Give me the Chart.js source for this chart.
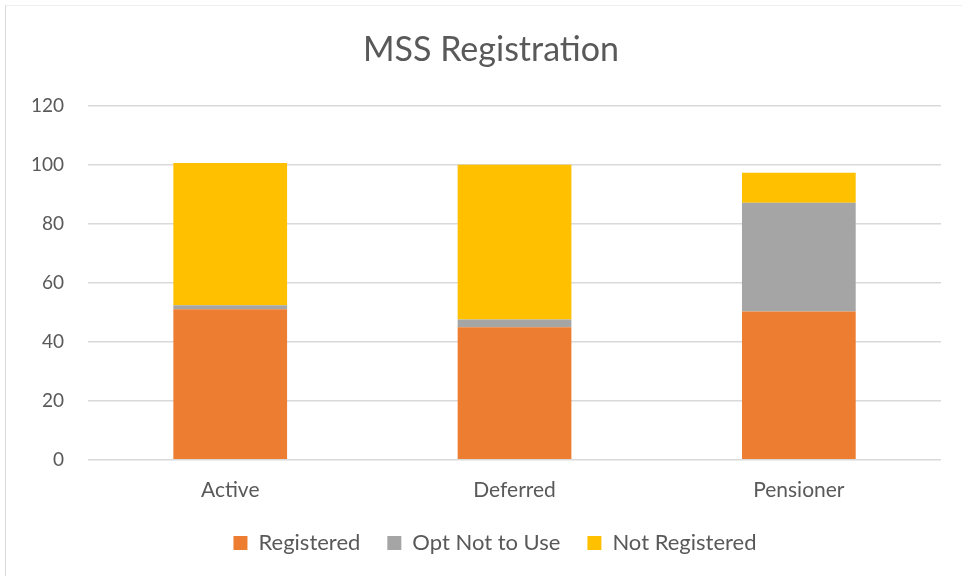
<!DOCTYPE html>
<html>
<head>
<meta charset="utf-8">
<script src="https://cdn.jsdelivr.net/npm/chart.js@4.4.1/dist/chart.umd.min.js"></script>
<style>
  html, body { margin: 0; padding: 0; background: #fff; }
  #wrap {
    position: absolute; left: 5px; top: 5px; width: 957px; height: 571px;
    border-left: 1px solid #d9d9d9; border-top: 1px solid #eeeeee;
    box-sizing: border-box;
  }
  canvas { position: absolute; left: 0; top: 0; }
</style>
</head>
<body>
<div id="wrap"></div>
<canvas id="chart" width="963" height="577"></canvas>
<script>
// values
const categories = ["Active", "Deferred", "Pensioner"];
const registered = [51.0, 44.9, 50.3];
const optNotToUse = [1.4, 2.7, 36.8];
const notRegistered = [48.2, 52.4, 10.2];
const yTicks = [0, 20, 40, 60, 80, 100, 120];

const textColor = "#595959";
const fontFamily = "Lato, 'Open Sans', sans-serif";

// title and legend sit a bit right of the canvas centre in the original
const shiftBoxes = {
    id: "shiftBoxes",
    afterLayout(chart) {
        chart.titleBlock.left += 17;
        chart.titleBlock.right += 17;
        chart.legend.left += 21;
        chart.legend.right += 21;
    },
};

const ctx = document.getElementById("chart").getContext("2d");
new Chart(ctx, {
    type: "bar",
    data: {
        labels: categories,
        datasets: [
            { label: "Registered", data: registered, backgroundColor: "#ed7d31" },
            { label: "Opt Not to Use", data: optNotToUse, backgroundColor: "#a5a5a5" },
            { label: "Not Registered", data: notRegistered, backgroundColor: "#ffc000" },
        ],
    },
    plugins: [shiftBoxes],
    options: {
        responsive: false,
        animation: false,
        datasets: { bar: { barPercentage: 0.4, categoryPercentage: 1.0 } },
        layout: { padding: { left: 7, right: 22, top: 22, bottom: 13 } },
        plugins: {
            title: {
                display: true,
                text: "MSS Registration",
                color: textColor,
                font: { family: fontFamily, size: 34, weight: "normal" },
                padding: { top: 8, bottom: 35 },
            },
            legend: {
                position: "bottom",
                labels: {
                    color: textColor,
                    font: { family: fontFamily, size: 22 },
                    boxWidth: 14,
                    boxHeight: 14,
                    padding: 27,
                },
            },
            tooltip: { enabled: false },
        },
        scales: {
            x: {
                stacked: true,
                grid: { display: false },
                border: { display: false },
                ticks: { color: textColor, font: { family: fontFamily, size: 21 }, padding: 10 },
                afterFit: (axis) => { axis.height -= 8; },
            },
            y: {
                stacked: true,
                min: 0,
                max: 120,
                afterBuildTicks: (axis) => { axis.ticks = yTicks.map((v) => ({ value: v })); },
                grid: { color: "#d9d9d9", lineWidth: 1.5, drawTicks: false },
                border: { display: false },
                ticks: { color: textColor, font: { family: fontFamily, size: 19 }, padding: 24 },
            },
        },
    },
});
</script>
</body>
</html>
